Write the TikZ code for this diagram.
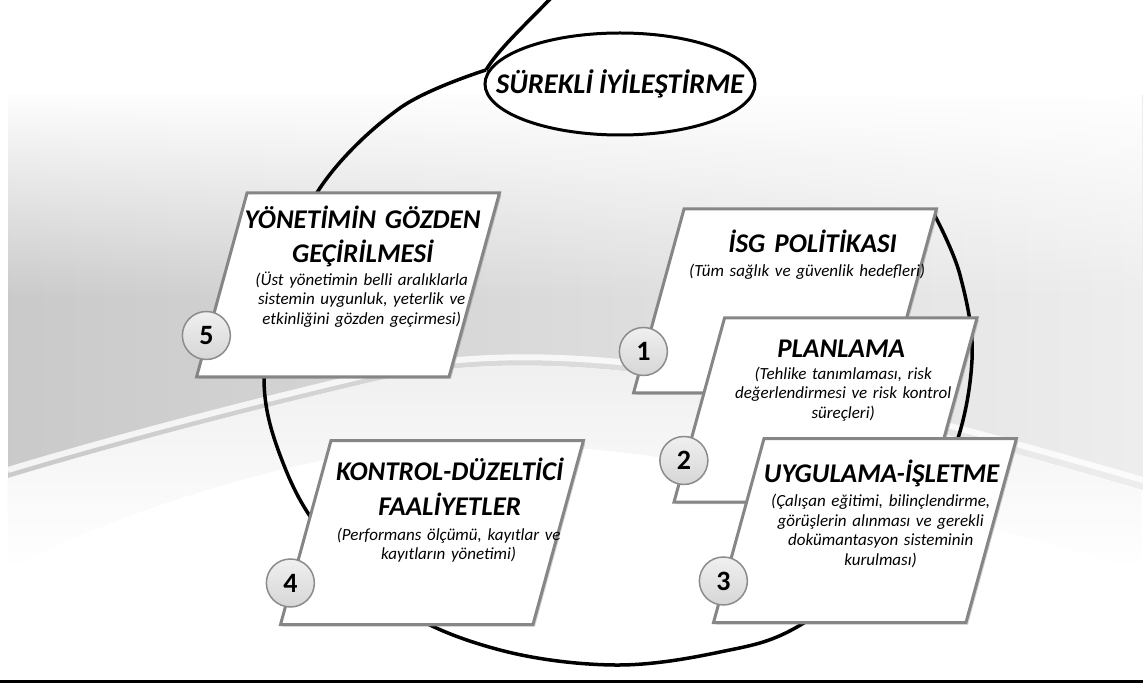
\documentclass[tikz,border=0pt]{standalone}
\usepackage{fontspec}
\setmainfont{Carlito}
\usetikzlibrary{shapes.geometric,positioning,shadows,calc,fadings}

\newcommand\darbosluk{\spaceskip=.2em plus .05em\relax}

\begin{document}
\begin{tikzpicture}[x=1pt,y=-1pt,
  kart/.style={trapezium, trapezium left angle=75.96, trapezium right angle=104.04,
    trapezium stretches=true, minimum width=303pt, minimum height=184pt,
    inner sep=2pt, draw=gray!95, line width=3pt, fill=white,
    drop shadow={shadow xshift=2pt, shadow yshift=-2pt, opacity=.35, fill=gray}},
  baslik/.style={font=\fontsize{27}{34.5}\selectfont\bfseries\itshape\darbosluk,
    align=center, text width=260pt, inner sep=0pt, anchor=base},
  aciklama/.style={font=\fontsize{17}{19.5}\selectfont\itshape, align=center,
    text width=260pt, inner sep=0pt, anchor=base, text=black},
  numara/.style={circle, minimum size=48pt, inner sep=0pt, draw=gray!90,
    line width=1.5pt, top color=gray!12, bottom color=gray!32,
    font=\fontsize{28}{28}\selectfont\bfseries}]

  \newcommand\KALIN{3.5pt}
  \newcommand\ORAN{.23}

  \useasboundingbox (0,0) rectangle (1143,684);

  % zemin
  \shade[left color=gray!42, right color=gray!14]
  (8,95) -- (1143,95) -- (1143,490) .. controls (900,420) and (600,330) .. (380,380)
  .. controls (250,410) and (100,450) .. (8,478) -- cycle;
  \fill[white, path fading=south] (0,90) rectangle (1143,300);
  \fill[gray!14, path fading=south]
  (8,478) .. controls (100,450) and (250,410) .. (380,380)
  .. controls (600,330) and (900,420) .. (1143,490) -- (1143,570)
  .. controls (900,500) and (600,420) .. (380,450)
  .. controls (250,470) and (100,520) .. (8,570) -- cycle;
  \draw[white, line width=6pt, opacity=.8]
  (8,470) .. controls (100,442) and (250,402) .. (380,372)
  .. controls (600,322) and (900,410) .. (1143,480);

  % buyuk dongu
  \draw[line width=\KALIN] (553,-4) .. controls (522,28) and (498,50) .. (486,70);
  \draw[line width=\KALIN] plot[smooth, tension=.6] coordinates {(486,70) (400,108)
    (320,188) (278,290) (264,380) (280,455) (320,530) (400,608) (500,650)
    (615,665) (720,652) (797,627) (890,555) (950,460) (972,360) (960,275)
    (934,214)};

  \node[ellipse, draw, line width=3pt, fill=white, minimum width=270pt,
    minimum height=102pt, inner sep=0pt] (iyi) at (620,84) {};
  \node[font=\fontsize{28.5}{28.5}\selectfont\bfseries\itshape\darbosluk]
  (iyiy) at (iyi.center) {SÜREKLİ İYİLEŞTİRME};

  % 5
  \node[kart] (b5) at (348,285) {};
  \node[baslik] (t5) at ([shift={(-11,37)}]b5.top side)
  {YÖNETİMİN GÖZDEN\\GEÇİRİLMESİ};
  \node[aciklama] (a5) at ([shift={(-12,94)}]b5.top side)
  {(Üst yönetimin belli aralıklarla\\sistemin uygunluk, yeterlik ve\\etkinliğini gözden geçirmesi)};
  \node[numara] (n5) at ($(b5.bottom left corner)!\ORAN!(b5.top left corner)$) {5};

  % 4
  \node[kart] (b4) at (432,532.5) {};
  \node[baslik] (t4) at ([shift={(-8,41.5)}]b4.top side)
  {KONTROL-DÜZELTİCİ\\FAALİYETLER};
  \node[aciklama] (a4) at ([shift={(-9,101)}]b4.top side)
  {(Performans ölçümü, kayıtlar ve\\kayıtların yönetimi)};
  \node[numara] (n4) at ($(b4.bottom left corner)!\ORAN!(b4.top left corner)$) {4};

  % 1
  \node[kart] (b1) at (785,301) {};
  \node[baslik] (t1) at ([shift={(2,45)}]b1.top side) {İSG POLİTİKASI};
  \node[aciklama] (a1) at ([shift={(-3.5,69)}]b1.top side)
  {(Tüm sağlık ve güvenlik hedefleri)};
  \node[numara] (n1) at ($(b1.bottom left corner)!\ORAN!(b1.top left corner)$) {1};

  % 2
  \node[kart] (b2) at (825.5,410) {};
  \node[baslik] (t2) at ([shift={(-10,41)}]b2.top side) {PLANLAMA};
  \node[aciklama] (a2) at ([shift={(-8,63)}]b2.top side)
  {(Tehlike tanımlaması, risk\\değerlendirmesi ve risk kontrol\\süreçleri)};
  \node[numara] (n2) at ($(b2.bottom left corner)!\ORAN!(b2.top left corner)$) {2};

  % 3
  \node[kart] (b3) at (865,530.5) {};
  \node[baslik] (t3) at ([shift={(-9,45.5)}]b3.top side) {UYGULAMA-İŞLETME};
  \node[aciklama] (a3) at ([shift={(-10,69.5)}]b3.top side)
  {(Çalışan eğitimi, bilinçlendirme,\\görüşlerin alınması ve gerekli\\dokümantasyon sisteminin\\kurulması)};
  \node[numara] (n3) at ($(b3.bottom left corner)!\ORAN!(b3.top left corner)$) {3};

  % alt cizgi
  \draw[line width=3pt] (0,681) -- (1143,681);

\end{tikzpicture}
\end{document}
